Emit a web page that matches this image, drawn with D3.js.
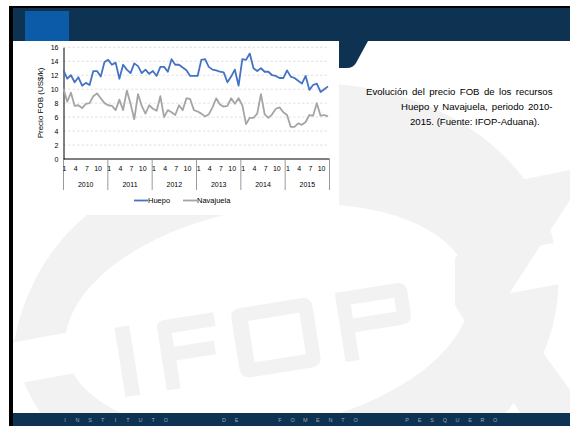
<!DOCTYPE html>
<html>
<head>
<meta charset="utf-8">
<script src="https://cdn.jsdelivr.net/npm/d3@7/dist/d3.min.js"></script>
<style>
  html, body { margin: 0; padding: 0; background: #fff; }
  svg { display: block; font-family: "Liberation Sans", Arial, sans-serif; }
</style>
</head>
<body>
<svg id="slide" width="570" height="426"></svg>
<script>
// Monthly FOB export price (US$/kg), Jan 2010 – Dec 2015
const years = ["2010", "2011", "2012", "2013", "2014", "2015"];
const monthTicks = [1, 4, 7, 10];
const yTicks = [0, 2, 4, 6, 8, 10, 12, 14, 16];

const huepo = [
  12.7, 11.5, 12.0, 11.0, 11.7, 10.5, 10.9, 10.6, 12.6, 12.6, 11.8, 13.9,
  14.2, 13.5, 13.8, 11.5, 13.5, 12.8, 12.3, 13.7, 13.3, 12.3, 12.8, 12.2,
  12.6, 11.9, 13.2, 13.2, 12.5, 14.3, 13.5, 13.5, 13.1, 12.7, 11.9, 11.9,
  11.9, 14.2, 14.3, 13.2, 12.8, 12.7, 12.5, 12.4, 11.0, 11.8, 12.8, 10.5,
  14.3, 14.2, 15.1, 13.0, 12.6, 13.0, 12.5, 12.5, 12.0, 11.9, 11.6, 11.6,
  12.7, 11.8, 11.6, 11.2, 10.8, 11.9, 9.9, 10.6, 10.8, 9.6, 10.0, 10.4
];
const navajuela = [
  10.1, 8.2, 9.5, 7.6, 7.7, 7.3, 7.9, 8.0, 9.0, 9.4, 8.7, 8.0,
  7.7, 7.6, 7.0, 8.5, 7.0, 9.8, 7.9, 5.7, 9.3, 7.6, 6.5, 7.7,
  7.2, 6.9, 9.0, 6.0, 7.0, 6.7, 6.3, 7.7, 7.0, 8.7, 8.6, 7.0,
  6.8, 6.5, 6.1, 6.4, 7.4, 8.7, 7.8, 7.5, 7.6, 8.7, 7.9, 8.7,
  7.7, 5.0, 5.9, 5.9, 6.5, 9.3, 6.4, 5.9, 6.4, 7.2, 7.4, 6.7,
  6.3, 4.6, 4.6, 5.1, 4.9, 5.3, 6.3, 6.2, 8.0, 6.2, 6.3, 6.1
];
const seriesNames = ["Huepo", "Navajuela"];
const seriesColors = ["#4472c4", "#a5a5a5"];

const titleLines = [
  "Evolución del precio FOB de los recursos",
  "Huepo y Navajuela, periodo 2010-",
  "2015. (Fuente: IFOP-Aduana)."
];
const footer = ["INSTITUTO", "DE", "FOMENTO", "PESQUERO"];

const svg = d3.select("#slide");
const navy = "#0d3252";
const wm = "#f2f2f2";

// ---------- slide frame ----------
svg.append("rect").attr("x", 9).attr("y", 6).attr("width", 561).attr("height", 420).attr("fill", "#000");
svg.append("rect").attr("x", 13).attr("y", 8).attr("width", 557).attr("height", 418).attr("fill", "#fff");

// watermark logo (drawn under everything else)
svg.append("clipPath").attr("id", "slideClip")
  .append("rect").attr("x", 13).attr("y", 41).attr("width", 557).attr("height", 372);
const wmG = svg.append("g").attr("clip-path", "url(#slideClip)");
// outer ring
wmG.append("ellipse").attr("cx", 285).attr("cy", 300).attr("rx", 275).attr("ry", 215)
  .attr("transform", "rotate(-10 285 300)").attr("fill", wm);
// trim the ring's upper-left edge
wmG.append("path").attr("d", "M0,150 L120,150 L87,215 C50,245 24,290 14.5,340 L0,340 Z").attr("fill", "#fff");
// white body
wmG.append("ellipse").attr("cx", 268).attr("cy", 318).attr("rx", 205).attr("ry", 110)
  .attr("transform", "rotate(-10 268 318)").attr("fill", "#fff");
// white band across
wmG.append("path").attr("d", "M0,345 L570,240 L570,282 L0,387 Z").attr("fill", "#fff");
// tail
wmG.append("path").attr("d", "M455,258 L520,180 L570,170 L570,200 L505,300 L570,390 L570,413 L520,413 L455,305 Z").attr("fill", wm);
// letters I F O P
const lettersG = wmG.append("g").attr("transform", "rotate(-9 260 320)");
lettersG.append("rect").attr("x", 115).attr("y", 305).attr("width", 15).attr("height", 70).attr("fill", wm);
lettersG.append("path").attr("d", "M157,305 h58 v14 h-44 v14 h40 v14 h-40 v28 h-14 v-62 q0,-8 8,-8 z").attr("fill", wm);
lettersG.append("path").attr("d", "M242,305 h62 q10,0 10,10 v50 q0,10 -10,10 h-62 q-10,0 -10,-10 v-50 q0,-10 10,-10 z M248,319 v42 h52 v-42 z")
  .attr("fill", wm).attr("fill-rule", "evenodd");
lettersG.append("path").attr("d", "M338,305 h62 q10,0 10,10 v22 q0,10 -10,10 h-48 v28 h-14 z M352,319 v14 h44 v-14 z")
  .attr("fill", wm).attr("fill-rule", "evenodd");

// header band and accent square
svg.append("rect").attr("x", 13).attr("y", 8).attr("width", 557).attr("height", 33).attr("fill", navy);
svg.append("rect").attr("x", 25).attr("y", 11).attr("width", 44).attr("height", 30).attr("fill", "#0b5ba9");
svg.append("path").attr("d", "M338,41 L368,41 L356,63 Q353,68 347,68 L338,68 Z").attr("fill", navy);

// footer band with spaced-out institute name
svg.append("rect").attr("x", 13).attr("y", 413).attr("width", 557).attr("height", 13).attr("fill", navy);
{
  const wordStart = [65, 224, 280, 407];
  const step = 12.6;
  const chars = [];
  footer.forEach((w, wi) => w.split("").forEach((c, ci) => chars.push({ c, x: wordStart[wi] + ci * step })));
  svg.append("g").selectAll("text").data(chars).join("text")
    .attr("x", d => d.x)
    .attr("y", 422)
    .attr("text-anchor", "middle")
    .attr("font-size", 5.5)
    .attr("fill", "#9aa7b6")
    .text(d => d.c);
}

// ---------- chart panel ----------
svg.append("rect").attr("x", 25).attr("y", 41).attr("width", 314).attr("height", 174).attr("fill", "#fff");

const plotL = 63.5, plotR = 328, plotT = 47.3, plotB = 159;
const y = d3.scaleLinear().domain([0, 16]).range([plotB, plotT]);
const idx = d3.range(huepo.length);
const x = d3.scalePoint().domain(idx).range([plotL, plotR]);
const yearBand = d3.scaleBand().domain(years).range([plotL, 329.5]);

const chart = svg.append("g");

// horizontal dashed gridlines
chart.append("g").selectAll("line").data(yTicks.filter(v => v > 0)).join("line")
  .attr("x1", plotL).attr("x2", 329.5)
  .attr("y1", d => y(d)).attr("y2", d => y(d))
  .attr("stroke", "#d9d9d9").attr("stroke-width", 0.8).attr("stroke-dasharray", "2.5,2");

// y axis
const yAxis = chart.append("g").attr("transform", `translate(${plotL},0)`)
  .call(d3.axisLeft(y).tickValues(yTicks).tickSize(0).tickPadding(5));
yAxis.select(".domain").attr("stroke", "#000").attr("stroke-width", 1);
yAxis.selectAll("text").attr("font-size", 7).attr("fill", "#000").attr("font-family", "Liberation Sans, Arial, sans-serif");

chart.append("text")
  .attr("transform", `translate(43,103) rotate(-90)`)
  .attr("text-anchor", "middle")
  .attr("font-size", 8)
  .attr("fill", "#000")
  .text("Precio FOB (US$/k)");

// x axis baseline
chart.append("line").attr("x1", plotL).attr("x2", 329.5).attr("y1", plotB).attr("y2", plotB)
  .attr("stroke", "#000").attr("stroke-width", 1);

// year separators
chart.append("g").selectAll("line").data(years.map(yr => yearBand(yr)).concat([yearBand.range()[1]])).join("line")
  .attr("x1", d => d).attr("x2", d => d)
  .attr("y1", plotB).attr("y2", 190)
  .attr("stroke", "#808080").attr("stroke-width", 0.8);

// month labels
const monthLabels = [];
years.forEach((yr, yi) => monthTicks.forEach(m => monthLabels.push({ i: yi * 12 + m - 1, m })));
chart.append("g").selectAll("text").data(monthLabels).join("text")
  .attr("x", d => x(d.i) + 1)
  .attr("y", 170.5)
  .attr("text-anchor", "middle")
  .attr("font-size", 7)
  .attr("fill", "#000")
  .text(d => d.m);

// year labels
chart.append("g").selectAll("text").data(years).join("text")
  .attr("x", d => yearBand(d) + yearBand.bandwidth() / 2)
  .attr("y", 186.5)
  .attr("text-anchor", "middle")
  .attr("font-size", 7)
  .attr("fill", "#000")
  .text(d => d);

// series lines
const line = d3.line().x((d, i) => x(i)).y(d => y(d));
[[navajuela, seriesColors[1]], [huepo, seriesColors[0]]].forEach(([s, c]) => {
  chart.append("path").datum(s)
    .attr("d", line)
    .attr("fill", "none")
    .attr("stroke", c)
    .attr("stroke-width", 1.8)
    .attr("stroke-linejoin", "round");
});

// legend
const legend = chart.append("g");
const legendPos = [134, 183];
seriesNames.forEach((name, k) => {
  legend.append("line")
    .attr("x1", legendPos[k]).attr("x2", legendPos[k] + 14)
    .attr("y1", 200.5).attr("y2", 200.5)
    .attr("stroke", seriesColors[k]).attr("stroke-width", 1.8);
  legend.append("text")
    .attr("x", legendPos[k] + 14).attr("y", 203)
    .attr("font-size", 7.5).attr("fill", "#000")
    .text(name);
});

// ---------- caption (first two lines justified to the right margin) ----------
const capX = [366, 401, 410];
const capRight = 552.5;
const cap = svg.append("g").selectAll("text").data(titleLines).join("text")
  .attr("x", (d, i) => capX[i])
  .attr("y", (d, i) => 95 + i * 15)
  .attr("font-size", 9.6)
  .attr("fill", "#000")
  .text(d => d);
cap.each(function (d, i) {
  if (i === titleLines.length - 1) return;
  const natural = this.getComputedTextLength();
  const gaps = d.split(" ").length - 1;
  const extra = (capRight - capX[i] - natural) / gaps;
  if (extra > 0) d3.select(this).attr("word-spacing", extra);
});
</script>
</body>
</html>
